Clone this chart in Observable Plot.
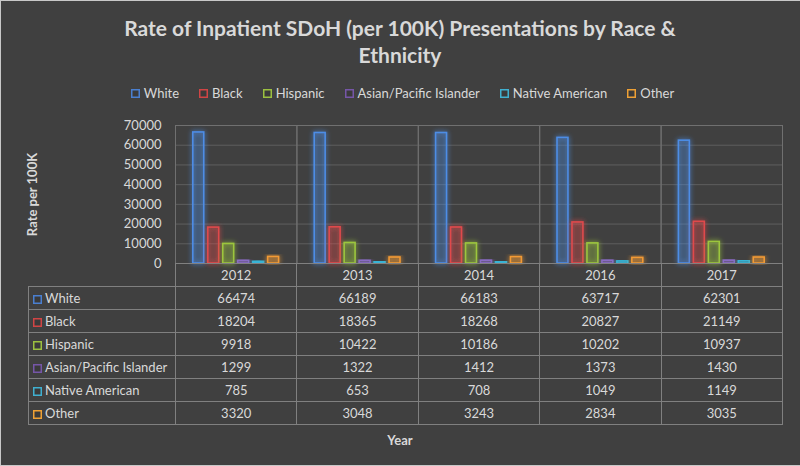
<!DOCTYPE html>
<html><head><meta charset="utf-8">
<script src="https://cdn.jsdelivr.net/npm/d3@7"></script>
<script src="https://cdn.jsdelivr.net/npm/@observablehq/plot@0.6"></script>
<style>
html,body{margin:0;padding:0;background:#404040;}
#chart{position:relative;width:800px;height:466px;background:#404040;font-family:Lato,sans-serif;color:#d9d9d9;overflow:hidden;}
#edge{position:absolute;left:0;top:0;width:800px;height:466px;box-sizing:border-box;border:1px solid #c8c8c8;border-right:none;pointer-events:none;}
#title{position:absolute;left:0;width:800px;top:14px;text-align:center;font-weight:700;font-size:21px;line-height:27px;}
#legend{position:absolute;left:0;width:805px;top:85px;display:flex;justify-content:center;gap:20px;font-size:13px;line-height:16px;}
.item{display:flex;align-items:center;gap:4px;}
svg.sw{display:inline-block;}
#plot{position:absolute;left:0;top:0;}
#table{position:absolute;left:28px;top:263px;}
table{border-collapse:collapse;table-layout:fixed;font-size:13px;}
td,th{border:1px solid #808080;padding:0;height:22px;text-align:center;font-weight:400;color:#d9d9d9;white-space:nowrap;}
th.blank{border-top:none;border-left:none;}
td.lab{text-align:left;padding-left:4px;}
td.lab svg.sw{margin-right:3px;vertical-align:-1px;}
#xlabel{position:absolute;left:0;width:800px;top:432px;text-align:center;font-weight:700;font-size:13px;}
</style></head>
<body>
<div id="chart">
  <div id="plot"></div>
  <div id="title">Rate of Inpatient SDoH (per 100K) Presentations by Race &amp;<br>Ethnicity</div>
  <div id="legend"></div>
  <div id="table"></div>
  <div id="xlabel">Year</div>
  <div id="edge"></div>
</div>
<script>
const years = ["2012", "2013", "2014", "2016", "2017"];
const races = ["White", "Black", "Hispanic", "Asian/Pacific Islander", "Native American", "Other"];
const white = [66474, 66189, 66183, 63717, 62301];
const black = [18204, 18365, 18268, 20827, 21149];
const hispanic = [9918, 10422, 10186, 10202, 10937];
const asianPacific = [1299, 1322, 1412, 1373, 1430];
const nativeAmerican = [785, 653, 708, 1049, 1149];
const other = [3320, 3048, 3243, 2834, 3035];
const yTicks = [0, 10000, 20000, 30000, 40000, 50000, 60000, 70000];

const series = [white, black, hispanic, asianPacific, nativeAmerican, other];
const barColors = ["#4d8de6", "#e04a4c", "#9cc63e", "#8a6cc4", "#38b4d6", "#f29a35"];
const keyColors = ["#4a7fd0", "#d04545", "#9bc040", "#7656a8", "#40b0d0", "#eea035"];

const data = years.flatMap((yr, i) => races.map((r, j) => ({year: yr, race: r, value: series[j][i]})));

const plot = Plot.plot({
  width: 800, height: 466,
  marginTop: 125, marginBottom: 203, marginLeft: 175, marginRight: 18,
  style: {background: "transparent", color: "#d9d9d9", fontFamily: "Lato, sans-serif", fontSize: "13px"},
  fx: {domain: years, padding: 0, round: false, axis: null},
  x: {domain: races, paddingInner: 0.27, paddingOuter: 1.19, round: false, axis: null},
  y: {domain: [0, 70000], ticks: yTicks, tickSize: 0, tickPadding: 14, tickFormat: d => String(d),
      label: "Rate per 100K", labelAnchor: "center", labelOffset: 148, labelArrow: false},
  color: {domain: races, range: barColors},
  marks: [
    Plot.gridY(yTicks, {stroke: "#5e5e5e", strokeOpacity: 1}),
    Plot.frame({stroke: "#707070"}),
    Plot.barY(data, {fx: "year", x: "race", y: "value", stroke: "race", fill: "race", fillOpacity: 0.16, strokeWidth: 1.6})
  ]
});
document.getElementById("plot").appendChild(plot);

const svg = d3.select(plot);
const defs = svg.insert("defs", ":first-child");
const f = defs.append("filter").attr("id", "glow").attr("x", "-80%").attr("y", "-30%").attr("width", "260%").attr("height", "160%");
f.append("feGaussianBlur").attr("in", "SourceGraphic").attr("stdDeviation", 2.6).attr("result", "b");
f.append("feComponentTransfer").attr("in", "b").attr("result", "b2").append("feFuncA").attr("type", "linear").attr("slope", 1.1);
const m = f.append("feMerge");
m.append("feMergeNode").attr("in", "b2");
m.append("feMergeNode").attr("in", "SourceGraphic");
svg.selectAll('g[aria-label="bar"] rect').attr("filter", "url(#glow)");
svg.selectAll('g[aria-label="y-axis label"] text').style("font-weight", "700").style("font-size", "13px");

function swatch(sel, color) {
  const s = sel.append("svg").attr("class", "sw").attr("width", 9).attr("height", 9);
  s.append("rect").attr("x", 0.75).attr("y", 0.75).attr("width", 7.5).attr("height", 7.5)
    .attr("fill", "#3a3a3a").attr("stroke", color).attr("stroke-width", 1.5);
}

// legend
const lg = d3.select("#legend");
races.forEach((r, j) => {
  const it = lg.append("div").attr("class", "item");
  swatch(it, keyColors[j]);
  it.append("span").text(r);
});

// data table
const colW = (782 - 175) / years.length;
const tbl = d3.select("#table").append("table").style("width", (782 - 28) + "px");
const cg = tbl.append("colgroup");
cg.append("col").style("width", (175 - 28) + "px");
years.forEach(() => cg.append("col").style("width", colW + "px"));
const hr = tbl.append("tr");
hr.append("th").attr("class", "blank");
years.forEach(yr => hr.append("th").text(yr));
races.forEach((r, j) => {
  const tr = tbl.append("tr");
  const lab = tr.append("td").attr("class", "lab");
  swatch(lab, keyColors[j]);
  lab.append("span").text(r);
  series[j].forEach(v => tr.append("td").text(String(v)));
});
</script>
</body></html>
